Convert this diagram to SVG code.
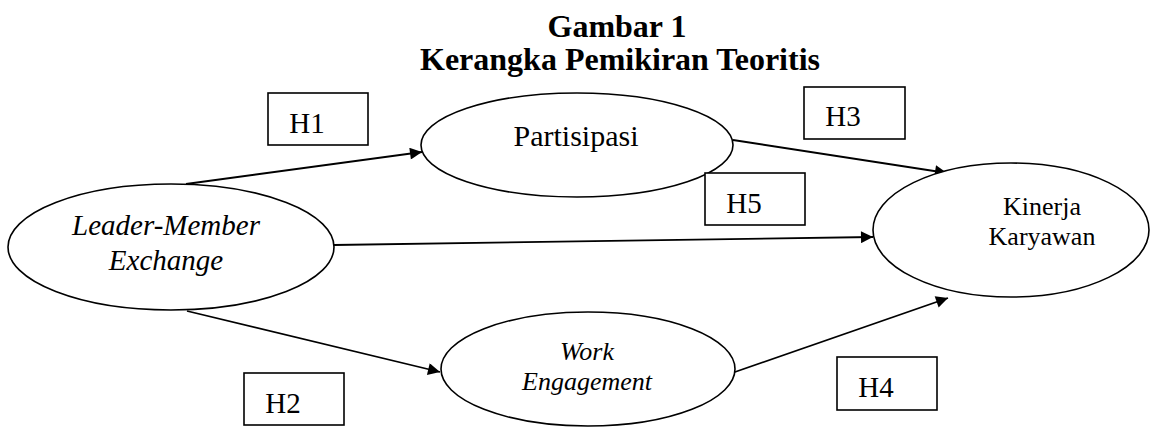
<svg xmlns="http://www.w3.org/2000/svg" width="1152" height="427" viewBox="0 0 1152 427">
<defs>
<marker id="ah" viewBox="0 0 10 10" refX="10" refY="5" markerWidth="15" markerHeight="12" markerUnits="userSpaceOnUse" orient="auto">
<path d="M0,0 L10,5 L0,10 z" fill="#000"/>
</marker>
<style>
.node{fill:#fff;stroke:#000;stroke-width:1.6}
.box{fill:#fff;stroke:#000;stroke-width:1.6}
.edge{stroke:#000;stroke-width:1.8;fill:none;marker-end:url(#ah)}
text{font-family:"Liberation Serif","Times New Roman",serif;fill:#000}
.lbl{font-size:26px;text-anchor:middle}
.it{font-style:italic}
.title{font-size:32px;font-weight:bold;text-anchor:middle}
</style>
</defs>
<rect width="1152" height="427" fill="#fff"/>
<g id="title">
<text class="title" x="617" y="37">Gambar 1</text>
<text class="title" x="620" y="70">Kerangka Pemikiran Teoritis</text>
</g>
<g id="connectors">
<line class="edge" x1="186" y1="184" x2="422" y2="152"/>
<line class="edge" x1="334" y1="245" x2="873" y2="237"/>
<line class="edge" x1="187" y1="311" x2="440" y2="372"/>
<line class="edge" x1="733" y1="140" x2="947" y2="173"/>
<line class="edge" x1="732" y1="373" x2="948" y2="298"/>
</g>
<g id="lmx">
<ellipse class="node" cx="171" cy="247" rx="163" ry="63"/>
<text class="lbl it" x="166" y="235" style="font-size:29px">Leader-Member</text>
<text class="lbl it" x="166" y="270" style="font-size:29px">Exchange</text>
</g>
<g id="partisipasi">
<ellipse class="node" cx="577" cy="145" rx="156" ry="52"/>
<text class="lbl" x="576" y="146" style="font-size:30px">Partisipasi</text>
</g>
<g id="work-engagement">
<ellipse class="node" cx="588" cy="369" rx="147" ry="57"/>
<text class="lbl it" x="587" y="360">Work</text>
<text class="lbl it" x="587" y="390">Engagement</text>
</g>
<g id="kinerja">
<ellipse class="node" cx="1011" cy="230" rx="138" ry="67"/>
<text class="lbl" x="1042" y="215">Kinerja</text>
<text class="lbl" x="1042" y="245">Karyawan</text>
</g>
<g id="h1"><rect class="box" x="268" y="93" width="100" height="52"/><text class="lbl" x="307" y="133" style="font-size:29px">H1</text></g>
<g id="h3"><rect class="box" x="804" y="87" width="101" height="52"/><text class="lbl" x="843" y="126" style="font-size:29px">H3</text></g>
<g id="h5"><rect class="box" x="705" y="173" width="100" height="52"/><text class="lbl" x="744" y="213" style="font-size:29px">H5</text></g>
<g id="h2"><rect class="box" x="244" y="373" width="100" height="52"/><text class="lbl" x="283" y="413" style="font-size:29px">H2</text></g>
<g id="h4"><rect class="box" x="837" y="357" width="100" height="53"/><text class="lbl" x="876" y="397" style="font-size:29px">H4</text></g>
</svg>
